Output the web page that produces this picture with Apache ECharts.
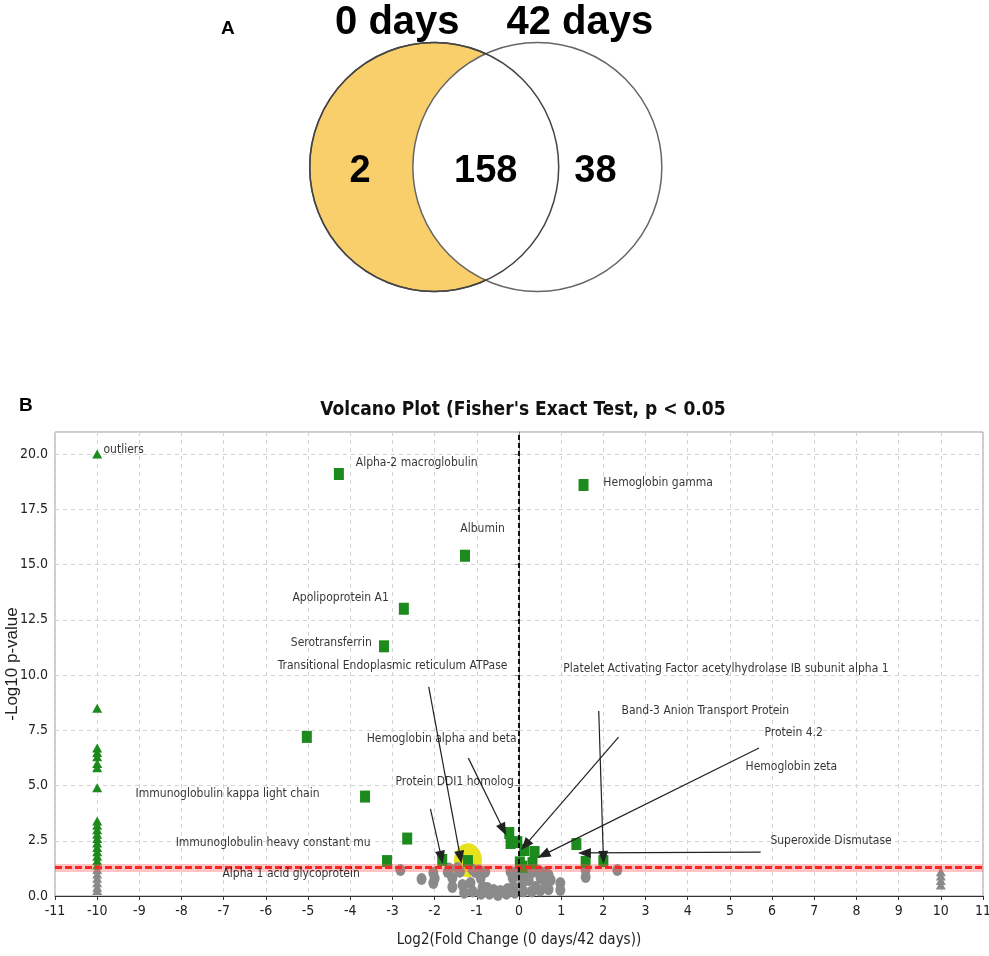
<!DOCTYPE html>
<html>
<head>
<meta charset="utf-8">
<title>Venn + Volcano</title>
<script src="https://cdn.jsdelivr.net/npm/echarts@6/dist/echarts.min.js"></script>
<style>
  html, body { margin: 0; padding: 0; background: #fff; }
  #main { width: 989px; height: 956px; }
</style>
</head>
<body>
<div id="main"></div>
<script>
// ---- A: Venn counts ----
const vennSets = ["0 days", "42 days"];
const vennCounts = [2, 158, 38]; // only 0 days, both, only 42 days

// ---- B: volcano points [log2 FC, -log10 p] ----
const sigSquares = [
  [-4.27, 19.1], [1.53, 18.6], [-1.28, 15.4], [-2.73, 13.0], [-3.2, 11.3],
  [-5.03, 7.2], [-3.65, 4.5], [-2.65, 2.6], [-3.13, 1.58], [-1.82, 1.63],
  [-1.21, 1.58], [-0.23, 2.85], [-0.2, 2.4], [-0.04, 2.44], [0.13, 2.08],
  [0.37, 1.99], [0.02, 1.52], [0.08, 1.33], [0.32, 1.49], [1.36, 2.35],
  [1.58, 1.54], [2.0, 1.58]
];
const sigTriangles = [
  [-10, 20.0], [-10, 8.5], [-10, 6.7], [-10, 6.5], [-10, 6.3], [-10, 6.0],
  [-10, 5.8], [-10, 4.9], [-10, 3.4], [-10, 3.2], [-10, 3.0], [-10, 2.8],
  [-10, 2.6], [-10, 2.4], [-10, 2.2], [-10, 2.0], [-10, 1.8], [-10, 1.6], [-10, 1.4]
];
const nsTriangles = [
  [-10, 1.2], [-10, 1.0], [-10, 0.8], [-10, 0.6], [-10, 0.4], [-10, 0.25],
  [10, 1.1], [10, 0.9], [10, 0.7], [10, 0.5]
];
const nsCircles = [
  [-2.81, 1.18], [-2.31, 0.77], [-2.03, 1.04], [-2.03, 0.59], [-2.0, 0.8],
  [-1.69, 1.09], [-1.66, 1.25], [-1.58, 0.81], [-1.58, 0.41], [-1.46, 1.27],
  [-1.4, 1.1], [-1.34, 0.5], [-1.3, 0.15], [-1.15, 0.59], [-1.1, 1.2],
  [-1.1, 0.2], [-1.03, 1.09], [-0.95, 1.15], [-0.91, 0.81], [-0.9, 0.1],
  [-0.86, 0.41], [-0.8, 1.1], [-0.75, 0.36], [-0.7, 0.1], [-0.6, 0.27],
  [-0.5, 0.05], [-0.44, 0.23], [-0.3, 0.1], [-0.27, 0.32], [-0.2, 1.1],
  [-0.15, 0.81], [-0.13, 0.41], [-0.1, 0.9], [-0.1, 0.15], [0.0, 1.2],
  [0.04, 0.95], [0.08, 0.59], [0.1, 0.2], [0.15, 1.15], [0.2, 0.95],
  [0.23, 0.72], [0.3, 1.25], [0.3, 0.2], [0.32, 1.09], [0.39, 0.41],
  [0.45, 1.15], [0.5, 0.25], [0.51, 0.81], [0.6, 1.05], [0.63, 0.59],
  [0.7, 0.95], [0.7, 0.3], [0.75, 0.72], [0.98, 0.59], [0.98, 0.27],
  [1.58, 1.18], [1.58, 0.86], [2.33, 1.18]
];
const highlighted = [[-1.21, 1.62]]; // yellow ring
const pThreshold = 1.3; // -log10(0.05)

// protein labels and where their text starts
const labelNames = [
  "outliers", "Alpha-2 macroglobulin", "Hemoglobin gamma", "Albumin",
  "Apolipoprotein A1", "Serotransferrin", "Transitional Endoplasmic reticulum ATPase",
  "Platelet Activating Factor acetylhydrolase IB subunit alpha 1",
  "Band-3 Anion Transport Protein", "Hemoglobin alpha and beta", "Protein 4.2",
  "Hemoglobin zeta", "Protein DDI1 homolog", "Immunoglobulin kappa light chain",
  "Immunoglobulin heavy constant mu", "Alpha 1 acid glycoprotein", "Superoxide Dismutase"
];
const labelAt = [
  [-9.85, 20.2], [-3.87, 19.6], [2.0, 18.7], [-1.39, 16.6],
  [-5.37, 13.5], [-5.41, 11.45], [-5.72, 10.4],
  [1.05, 10.3],
  [2.43, 8.37], [-3.61, 7.1], [5.82, 7.38],
  [5.37, 5.84], [-2.93, 5.16], [-9.09, 4.62],
  [-8.14, 2.4], [-7.03, 1.0], [5.96, 2.49]
];
// arrows: from -> to
const arrows = [
  [-2.14, 9.46, -1.39, 1.75],
  [-2.1, 3.94, -1.84, 1.75],
  [-1.2, 6.24, -0.37, 3.0],
  [2.36, 7.19, 0.15, 2.3],
  [5.69, 6.7, 0.58, 1.86],
  [1.89, 8.37, 2.0, 1.75],
  [5.73, 1.99, 1.55, 1.95]
];

let myChart = echarts.init(document.getElementById("main"));

const narrow = "'Liberation Sans Narrow', 'DejaVu Sans Condensed', 'Liberation Sans', sans-serif";

option = {
  animation: false,
  backgroundColor: "#fff",
  title: [
    { text: "A", left: 216, top: 14, textStyle: { fontSize: 19, fontWeight: "bold", fontFamily: "Liberation Sans", color: "#000" } },
    { text: "B", left: 14, top: 391, textStyle: { fontSize: 19, fontWeight: "bold", fontFamily: "Liberation Sans", color: "#000" } },
    {
      text: "Volcano Plot (Fisher's Exact Test, p < 0.05",
      left: 518, top: 396, textAlign: "center",
      textStyle: { fontSize: 19, fontWeight: "bold", fontFamily: narrow, color: "#111" }
    }
  ],
  grid: [
    { left: 55, right: 6, top: 432, bottom: 60, show: true, borderColor: "#999", borderWidth: 1, outerBoundsMode: "none" },
    { left: 0, right: 0, top: 0, height: 330, outerBoundsMode: "none" }
  ],
  xAxis: [
    {
      type: "value", min: -11, max: 11, interval: 1, gridIndex: 0,
      name: "Log2(Fold Change (0 days/42 days))",
      nameLocation: "middle", nameGap: 37,
      nameTextStyle: { fontSize: 15, fontFamily: narrow, color: "#222" },
      axisLine: { onZero: false, lineStyle: { color: "#333" } },
      axisTick: { show: true, length: 4, lineStyle: { color: "#333" } },
      axisLabel: { fontSize: 14, fontFamily: narrow, color: "#222", margin: 8 },
      splitLine: { show: true, lineStyle: { color: "#d4d4d4", type: [4, 4] } }
    },
    { type: "value", min: -3.9, max: 4.04, gridIndex: 1, show: false }
  ],
  yAxis: [
    {
      type: "value", min: 0, max: 21, interval: 2.5, gridIndex: 0,
      name: "-Log10 p-value",
      nameLocation: "middle", nameGap: 34, nameRotate: 90, nameMoveOverlap: false,
      nameTextStyle: { fontSize: 17, fontFamily: "Liberation Sans", color: "#222" },
      axisLine: { show: true, lineStyle: { color: "#888" } },
      axisTick: { show: true, length: 4, lineStyle: { color: "#888" } },
      axisLabel: {
        fontSize: 14, fontFamily: narrow, color: "#222", margin: 7, showMaxLabel: false,
        formatter: function(v) { return v % 2.5 === 0 ? v.toFixed(1) : ""; }
      },
      splitLine: { show: true, lineStyle: { color: "#d4d4d4", type: [4, 4] } }
    },
    { type: "value", min: -1.309, max: 1.341, gridIndex: 1, show: false }
  ],
  series: [
    // ---- Venn ----
    {
      type: "scatter", xAxisIndex: 1, yAxisIndex: 1, z: 1, silent: true, clip: false,
      symbol: "circle", symbolSize: 249,
      itemStyle: { color: "#f8cf6b", borderColor: "#555", borderWidth: 1.5, opacity: 1 },
      data: [[-0.414, 0]]
    },
    {
      type: "scatter", xAxisIndex: 1, yAxisIndex: 1, z: 2, silent: true, clip: false,
      symbol: "circle", symbolSize: 249,
      itemStyle: { color: "#fff", borderColor: "#666", borderWidth: 1.5, opacity: 1 },
      data: [[0.414, 0]]
    },
    {
      type: "scatter", xAxisIndex: 1, yAxisIndex: 1, z: 3, silent: true, clip: false,
      symbol: "circle", symbolSize: 249,
      itemStyle: { color: "transparent", borderColor: "#444", borderWidth: 1.5, opacity: 1 },
      data: [[-0.414, 0]]
    },
    {
      // counts and set names
      type: "scatter", xAxisIndex: 1, yAxisIndex: 1, z: 4, silent: true, symbolSize: 0,
      itemStyle: { opacity: 1 },
      label: {
        show: true, position: "inside", color: "#000", fontWeight: "bold",
        fontFamily: "Liberation Sans",
        formatter: function(p) { return p.data.name; }
      },
      data: [
        { name: String(vennCounts[0]), value: [-1.01, -0.04], label: { fontSize: 38 } },
        { name: String(vennCounts[1]), value: [0.0, -0.04], label: { fontSize: 38 } },
        { name: String(vennCounts[2]), value: [0.88, -0.04], label: { fontSize: 38 } },
        { name: vennSets[0], value: [-0.71, 1.16], label: { fontSize: 40 } },
        { name: vennSets[1], value: [0.755, 1.16], label: { fontSize: 40 } }
      ]
    },
    // ---- Volcano ----
    {
      name: "highlight", type: "scatter", z: 2, silent: true,
      symbol: "circle", symbolSize: [28, 34],
      itemStyle: { color: "#e6e31c", opacity: 1 },
      data: highlighted
    },
    {
      name: "ns", type: "scatter", z: 3, silent: true,
      symbol: "circle", symbolSize: [10, 12],
      itemStyle: { color: "#8a8a8a", opacity: 1 },
      data: nsCircles
    },
    {
      name: "ns outliers", type: "scatter", z: 3, silent: true,
      symbol: "triangle", symbolSize: [10, 9],
      itemStyle: { color: "#8a8a8a", opacity: 1 },
      data: nsTriangles
    },
    {
      name: "sig", type: "scatter", z: 4, silent: true,
      symbol: "rect", symbolSize: [10, 12],
      itemStyle: { color: "#1c8a1c", opacity: 1 },
      data: sigSquares
    },
    {
      name: "sig outliers", type: "scatter", z: 4, silent: true,
      symbol: "triangle", symbolSize: [10, 9],
      itemStyle: { color: "#1c8a1c", opacity: 1 },
      data: sigTriangles
    },
    {
      // threshold, zero line and arrows
      name: "lines", type: "scatter", z: 5, silent: true, data: [],
      markLine: {
        silent: true, animation: false,
        label: { show: false },
        emphasis: { disabled: true },
        symbol: ["none", "none"],
        data: [
          { yAxis: pThreshold, lineStyle: { color: "rgba(255,90,90,0.35)", width: 8, type: "solid" } },
          { yAxis: pThreshold, lineStyle: { color: "#ff2525", width: 3, type: [7, 3] } },
          { xAxis: 0, lineStyle: { color: "#111", width: 2, type: [5, 3] } }
        ].concat(arrows.map(function(a) {
          return [
            { coord: [a[0], a[1]], symbol: "none" },
            { coord: [a[2], a[3]], symbol: "triangle", symbolSize: [10, 13], lineStyle: { color: "#222", width: 1.2, type: "solid" } }
          ];
        }))
      }
    },
    {
      name: "labels", type: "scatter", z: 6, silent: true, symbolSize: 0,
      label: {
        show: true, position: "right", distance: 0,
        fontSize: 12, fontFamily: narrow, color: "#000",
        formatter: function(p) { return p.data.name; }
      },
      data: labelNames.map(function(n, i) { return { name: n, value: labelAt[i] }; })
    }
  ]
};

myChart.setOption(option);
</script>
</body>
</html>
